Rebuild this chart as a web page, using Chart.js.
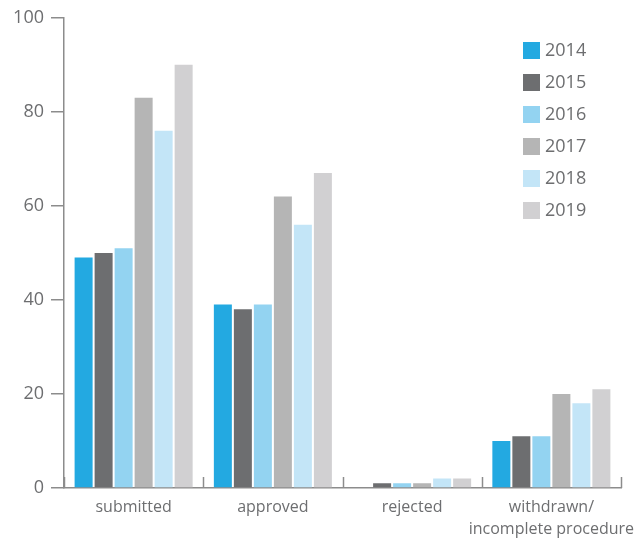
<!DOCTYPE html>
<html>
<head>
<meta charset="utf-8">
<script src="https://cdn.jsdelivr.net/npm/chart.js@4/dist/chart.umd.min.js"></script>
<style>
  html, body { margin: 0; padding: 0; background: #fff; }
  #wrap { width: 641px; height: 539px; }
</style>
</head>
<body>
<div id="wrap"><canvas id="c" width="641" height="539"></canvas></div>
<script>
// Procedure counts per outcome, one series per year
const categories = ['submitted', 'approved', 'rejected', ['withdrawn/', 'incomplete procedure']];
const years = ['2014', '2015', '2016', '2017', '2018', '2019'];
const v2014 = [49, 39, 0, 10];
const v2015 = [50, 38, 1, 11];
const v2016 = [51, 39, 1, 11];
const v2017 = [83, 62, 1, 20];
const v2018 = [76, 56, 2, 18];
const v2019 = [90, 67, 2, 21];
const yTicks = [0, 20, 40, 60, 80, 100];

const series = [v2014, v2015, v2016, v2017, v2018, v2019];
const colors = ['#23a9e1', '#6d6e70', '#93d3f1', '#b5b5b5', '#c3e5f7', '#d1d0d2'];
const textColor = '#6d6e70';
const axisColor = '#8c8c8c';
const fontFamily = '"Open Sans", "Noto Sans", sans-serif';

// Inward tick marks at the category boundaries of the x axis
const xBoundaryTicks = {
  id: 'xBoundaryTicks',
  afterDatasetsDraw(chart) {
    const x = chart.scales.x, ctx = chart.ctx;
    const half = (x.getPixelForValue(1) - x.getPixelForValue(0)) / 2;
    ctx.save();
    ctx.strokeStyle = axisColor;
    ctx.lineWidth = 1.5;
    for (let i = 0; i <= categories.length; i++) {
      const px = Math.round(x.getPixelForValue(0) - half + i * half * 2) + 0.5;
      ctx.beginPath();
      ctx.moveTo(px, x.top);
      ctx.lineTo(px, x.top - 11);
      ctx.stroke();
    }
    ctx.restore();
  }
};

// Vertical legend in the upper right of the plot
const sideLegend = {
  id: 'sideLegend',
  afterDraw(chart) {
    const ctx = chart.ctx;
    ctx.save();
    ctx.font = '18px ' + fontFamily;
    ctx.textBaseline = 'middle';
    ctx.textAlign = 'left';
    chart.data.datasets.forEach((ds, i) => {
      const y = 42 + i * 32;
      ctx.fillStyle = ds.backgroundColor;
      ctx.fillRect(523, y, 17, 17);
      ctx.fillStyle = textColor;
      ctx.fillText(ds.label, 545, y + 9);
    });
    ctx.restore();
  }
};

new Chart(document.getElementById('c'), {
  type: 'bar',
  data: {
    labels: categories,
    datasets: years.map((y, i) => ({
      label: y,
      data: series[i],
      backgroundColor: colors[i],
      borderWidth: 0,
      categoryPercentage: 0.862,
      barPercentage: 0.9
    }))
  },
  options: {
    responsive: false,
    animation: false,
    devicePixelRatio: 1,
    layout: { padding: { left: 0, top: 16, right: 20, bottom: 0 } },
    plugins: { legend: { display: false }, tooltip: { enabled: false } },
    scales: {
      x: {
        grid: { display: false, drawTicks: false },
        border: { display: true, color: axisColor, width: 1.5 },
        ticks: {
          color: textColor,
          font: { family: fontFamily, size: 16, lineHeight: 1.4 },
          padding: 8,
          maxRotation: 0,
          autoSkip: false
        },
        afterFit(s) { s.height = 51; s.paddingLeft = 0; s.paddingRight = 0; }
      },
      y: {
        min: 0,
        max: 100,
        afterBuildTicks(s) { s.ticks = yTicks.map(v => ({ value: v })); },
        grid: { drawOnChartArea: false, drawTicks: true, tickLength: 13, color: axisColor, lineWidth: 1.5 },
        border: { display: true, color: axisColor, width: 1.5 },
        ticks: {
          color: textColor,
          font: { family: fontFamily, size: 18 },
          padding: 7
        },
        afterFit(s) { s.width = 64; }
      }
    }
  },
  plugins: [xBoundaryTicks, sideLegend]
});
</script>
</body>
</html>
